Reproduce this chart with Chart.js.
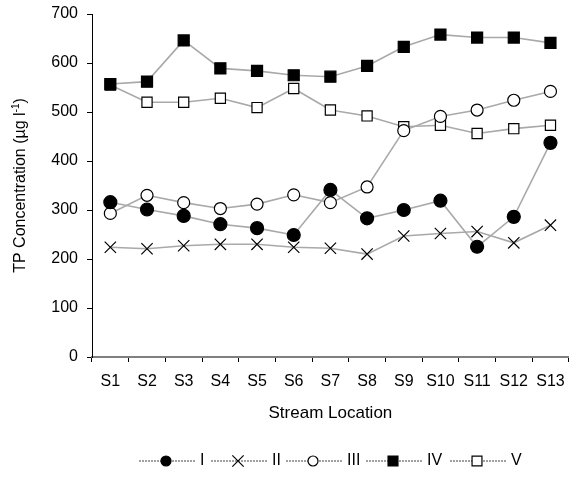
<!DOCTYPE html>
<html>
<head>
<meta charset="utf-8">
<script src="https://cdn.jsdelivr.net/npm/chart.js@4/dist/chart.umd.min.js"></script>
<style>
  html, body { margin: 0; padding: 0; background: #fff; }
  #wrap { width: 578px; height: 477px; }
</style>
</head>
<body>
<div id="wrap"><canvas id="tpChart" width="578" height="477"></canvas></div>
<script>
// Stream locations along the x axis
const locations = ['S1', 'S2', 'S3', 'S4', 'S5', 'S6', 'S7', 'S8', 'S9', 'S10', 'S11', 'S12', 'S13'];

// TP concentration per sampling event
const seriesI   = [316, 301, 288, 271, 263, 249, 341, 283, 300, 319, 225, 286, 437];
const seriesII  = [224, 221, 227, 230, 230, 224, 222, 210, 247, 252, 256, 233, 269];
const seriesIII = [293, 330, 315, 303, 312, 331, 315, 347, 462, 491, 504, 524, 542];
const seriesIV  = [557, 562, 646, 589, 584, 575, 572, 594, 633, 658, 652, 652, 641];
const seriesV   = [555, 520, 520, 528, 509, 548, 504, 492, 470, 473, 456, 466, 473];

const seriesNames = ['I', 'II', 'III', 'IV', 'V'];
const yTicks = [0, 100, 200, 300, 400, 500, 600, 700];

const FONT = "'Liberation Sans', Arial, sans-serif";
const lineGrey = '#a9a9a9';

const markers = [
    { pointStyle: 'circle',   radius: 6.5, fill: '#000', legendRadius: 5 },
    { pointStyle: 'crossRot', radius: 8,   fill: '#000', legendRadius: 8 },
    { pointStyle: 'circle',   radius: 6,   fill: '#fff', legendRadius: 5 },
    { pointStyle: 'rect',     radius: 7.8, fill: '#000', legendRadius: 7 },
    { pointStyle: 'rect',     radius: 7.2, fill: '#fff', legendRadius: 7 }
];

const values = [seriesI, seriesII, seriesIII, seriesIV, seriesV];

const datasets = values.map((vals, i) => ({
    label: seriesNames[i],
    data: vals,
    borderColor: lineGrey,
    borderWidth: 1.6,
    pointStyle: markers[i].pointStyle,
    pointRadius: markers[i].radius,
    pointHoverRadius: markers[i].radius,
    pointBackgroundColor: markers[i].fill,
    pointBorderColor: '#000',
    pointBorderWidth: 1.2,
    tension: 0,
    fill: false
}));

// Axis titles and the line+marker legend, drawn after the chart
const decorations = {
    id: 'decorations',
    afterDraw(chart) {
        const ctx = chart.ctx;
        const area = chart.chartArea;
        ctx.save();
        ctx.fillStyle = '#000';
        ctx.font = '17px ' + FONT;

        // x axis title
        ctx.textAlign = 'center';
        ctx.textBaseline = 'middle';
        ctx.fillText('Stream Location', (area.left + area.right) / 2, 413);

        // y axis title with superscript
        const main = 'TP Concentration (µg l';
        const sup = '-1';
        const tail = ')';
        ctx.font = '16px ' + FONT;
        const wMain = ctx.measureText(main).width;
        const wTail = ctx.measureText(tail).width;
        ctx.font = '10px ' + FONT;
        const wSup = ctx.measureText(sup).width;
        const total = wMain + wSup + wTail;
        ctx.translate(21, (area.top + area.bottom) / 2);
        ctx.rotate(-Math.PI / 2);
        ctx.textAlign = 'left';
        ctx.textBaseline = 'middle';
        let x0 = -total / 2;
        ctx.font = '16px ' + FONT;
        ctx.fillText(main, x0, 0);
        ctx.font = '10px ' + FONT;
        ctx.fillText(sup, x0 + wMain, -5);
        ctx.font = '16px ' + FONT;
        ctx.fillText(tail, x0 + wMain + wSup, 0);
        ctx.restore();

        // legend
        const legendY = 461;
        const markerX = [166, 238, 313, 393, 477];
        ctx.save();
        ctx.font = '16px ' + FONT;
        ctx.textBaseline = 'middle';
        ctx.textAlign = 'left';
        seriesNames.forEach((name, i) => {
            const mx = markerX[i];
            ctx.strokeStyle = '#a0a0a0';
            ctx.lineWidth = 2;
            ctx.setLineDash([2, 1]);
            ctx.beginPath();
            ctx.moveTo(mx - 27, legendY);
            ctx.lineTo(mx + 29, legendY);
            ctx.stroke();
            ctx.setLineDash([]);
            ctx.fillStyle = markers[i].fill;
            ctx.strokeStyle = '#000';
            ctx.lineWidth = 1.2;
            Chart.helpers.drawPoint(ctx, {
                pointStyle: markers[i].pointStyle,
                radius: markers[i].legendRadius,
                rotation: 0,
                borderWidth: 1.2
            }, mx, legendY);
            ctx.fillStyle = '#000';
            ctx.fillText(name, mx + 34, legendY);
        });
        ctx.restore();
    }
};

new Chart(document.getElementById('tpChart'), {
    type: 'line',
    data: {
        labels: locations,
        datasets: datasets
    },
    options: {
        responsive: false,
        animation: false,
        layout: {
            padding: 0
        },
        plugins: {
            legend: { display: false },
            tooltip: { enabled: false }
        },
        scales: {
            x: {
                type: 'category',
                offset: true,
                grid: {
                    offset: true,
                    drawOnChartArea: false,
                    drawTicks: true,
                    tickLength: 5,
                    color: '#000',
                    lineWidth: 1
                },
                border: { color: '#808080', width: 2 },
                ticks: {
                    color: '#000',
                    padding: 10,
                    maxRotation: 0,
                    autoSkip: false,
                    font: { family: FONT, size: 16 }
                },
                afterFit: s => { s.height = 120; s.paddingLeft = 0; s.paddingRight = 0; }
            },
            y: {
                min: 0,
                max: 700,
                afterBuildTicks: s => { s.ticks = yTicks.map(v => ({ value: v })); },
                grid: {
                    drawOnChartArea: false,
                    drawTicks: true,
                    tickLength: 5,
                    color: '#000',
                    lineWidth: 1
                },
                border: { color: '#000', width: 1 },
                ticks: {
                    color: '#000',
                    padding: 9,
                    font: { family: FONT, size: 16 }
                },
                afterFit: s => { s.width = 92; s.paddingTop = 14; s.paddingBottom = 0; }
            }
        }
    },
    plugins: [decorations]
});
</script>
</body>
</html>
